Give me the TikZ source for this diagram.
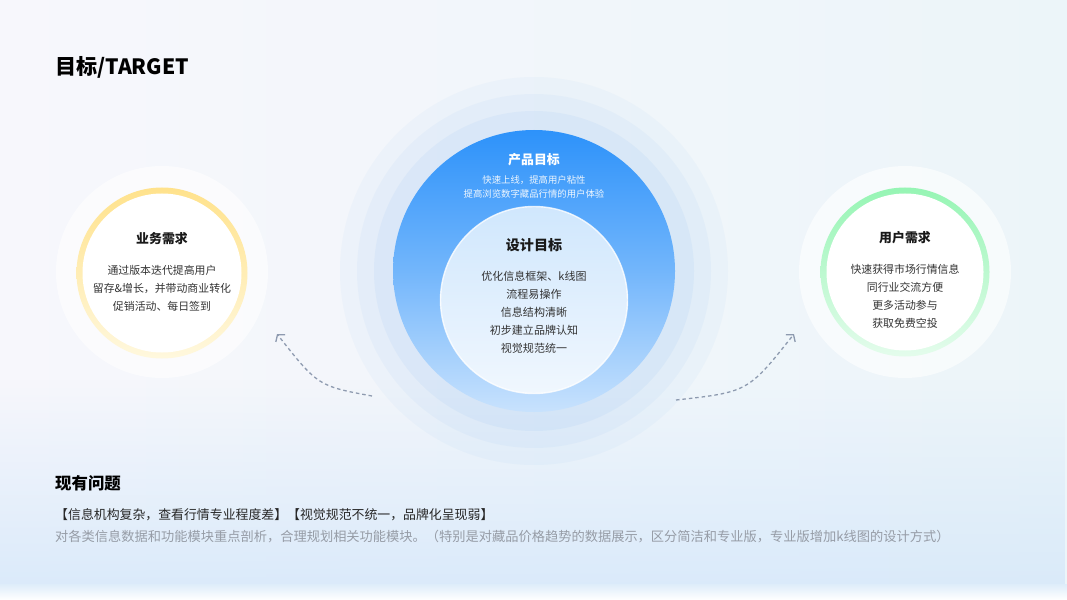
\documentclass[tikz,border=0pt]{standalone}
\usepackage{fontspec}
\setmainfont{Noto Sans CJK SC}[BoldFont={Noto Sans CJK SC Black}]
\usepackage{xcolor}
\usetikzlibrary{arrows.meta, positioning, fadings}
\definecolor{bgleft}{RGB}{247, 247, 252}
\definecolor{bgright}{RGB}{236, 245, 249}
\definecolor{bgbottom}{RGB}{216, 233, 250}
\definecolor{halo}{RGB}{60, 145, 240}
\definecolor{goaltop}{RGB}{45, 146, 250}
\definecolor{goalbottom}{RGB}{200, 226, 253}
\definecolor{designtop}{RGB}{208, 231, 253}
\definecolor{designbottom}{RGB}{240, 247, 254}
\definecolor{ringyellow}{RGB}{255, 226, 140}
\definecolor{ringyellowlt}{RGB}{255, 248, 222}
\definecolor{ringgreen}{RGB}{150, 245, 180}
\definecolor{ringgreenlt}{RGB}{228, 252, 236}
\definecolor{arrowgray}{RGB}{125, 139, 163}
\definecolor{notegray}{RGB}{150, 156, 166}

\begin{document}
\begin{tikzpicture}[
    x=0.03cm, y=-0.03cm,
    node distance=1cm,
    disc/.style={circle, inner sep=0, minimum size=#1*0.03cm},
    head/.style={font=\fontsize{11}{13}\selectfont\bfseries, text=black!90,
                 inner sep=0},
    body/.style={font=\fontsize{9.3}{15.4}\selectfont, text=black!80,
                 align=center, inner sep=0},
    arrow/.style={-{Straight Barb[length=4pt, width=10pt]}, line width=1.1pt,
                  arrowgray, dash pattern=on 3pt off 2.5pt}
]
    % background
    \shade[left color=bgleft, right color=bgright] (0,0) rectangle (1067,600);
    \fill[bgbottom, path fading=north, opacity=0.9] (0,380) rectangle (1067,586);
    \shade[top color=bgbottom!70!bgright, bottom color=white] (0,584) rectangle (1067,600);
    \useasboundingbox (0,0) rectangle (1067,600);

    % halos round the centre
    \fill[halo, opacity=0.035] (534,271) circle[radius=194];
    \fill[halo, opacity=0.045] (534,271) circle[radius=177];
    \fill[halo, opacity=0.06] (534,271) circle[radius=160];

    % centre circles
    \node[disc=282, top color=goaltop, bottom color=goalbottom,
          middle color=goaltop!55!goalbottom] (prod) at (534,271) {};
    \node[disc=187, top color=designtop, bottom color=designbottom,
          draw=white, line width=1.2pt, draw opacity=0.8] (design) at (534,300) {};

    \node[head, text=white] (prodhead) at (534,160) {产品目标};
    \node[body, font=\fontsize{8}{12}\selectfont, text=white!92!goaltop,
          below=7.6pt of prodhead] (prodtext)
        {快速上线，提高用户粘性\\提高浏览数字藏品行情的用户体验};

    \node[head, font=\fontsize{12}{14}\selectfont\bfseries] (designhead) at (534,245) {设计目标};
    \node[body, font=\fontsize{9.4}{15.4}\selectfont, below=16pt of designhead] (designtext)
        {优化信息框架、k线图\\流程易操作\\信息结构清晰\\初步建立品牌认知\\视觉规范统一};

    % left circle
    \node[disc=212, fill=white, opacity=0.6] (biz) at (162,272) {};
    \node[disc=171, top color=ringyellow, bottom color=ringyellowlt] (bizring) at (162,273) {};
    \node[disc=159, fill=white] (bizin) at (162,273) {};
    \node[head] (bizhead) at (162,239) {业务需求};
    \node[body, below=17pt of bizhead] (biztext)
        {通过版本迭代提高用户\\留存\&增长，并带动商业转化\\促销活动、每日签到};

    % right circle
    \node[disc=212, fill=white, opacity=0.6] (user) at (905,272) {};
    \node[disc=169, top color=ringgreen, bottom color=ringgreenlt] (userring) at (905,272) {};
    \node[disc=157, fill=white] (userin) at (905,272) {};
    \node[head] (userhead) at (905,238) {用户需求};
    \node[body, below=17pt of userhead] (usertext)
        {快速获得市场行情信息\\同行业交流方便\\更多活动参与\\获取免费空投};

    % arrows
    \coordinate (lfrom) at (372,396);
    \coordinate (lto) at (277,334);
    \coordinate (rfrom) at (676,400);
    \coordinate (rto) at (794,334);
    \draw[arrow, opacity=0.85] (lfrom) .. controls (318,386) .. (lto);
    \draw[arrow, opacity=0.85] (rfrom) .. controls (748,392) .. (rto);

    % title and problems
    \node[anchor=west, inner sep=0, font=\fontsize{18}{20}\selectfont\bfseries]
        (title) at (55,67) {目标/TARGET};
    \node[anchor=west, inner sep=0, font=\fontsize{14}{16}\selectfont\bfseries]
        (issuehead) at (55,483) {现有问题};
    \node[anchor=west, inner sep=0, font=\fontsize{11}{13}\selectfont, text=black!85]
        (issues) at (55,515)
        {【信息机构复杂，查看行情专业程度差】【视觉规范不统一，品牌化呈现弱】};
    \node[anchor=west, inner sep=0, font=\fontsize{11.3}{13}\selectfont, text=notegray]
        (issuenote) at (55,537)
        {对各类信息数据和功能模块重点剖析，合理规划相关功能模块。（特别是对藏品价格趋势的数据展示，区分简洁和专业版，专业版增加k线图的设计方式）};
\end{tikzpicture}
\end{document}
